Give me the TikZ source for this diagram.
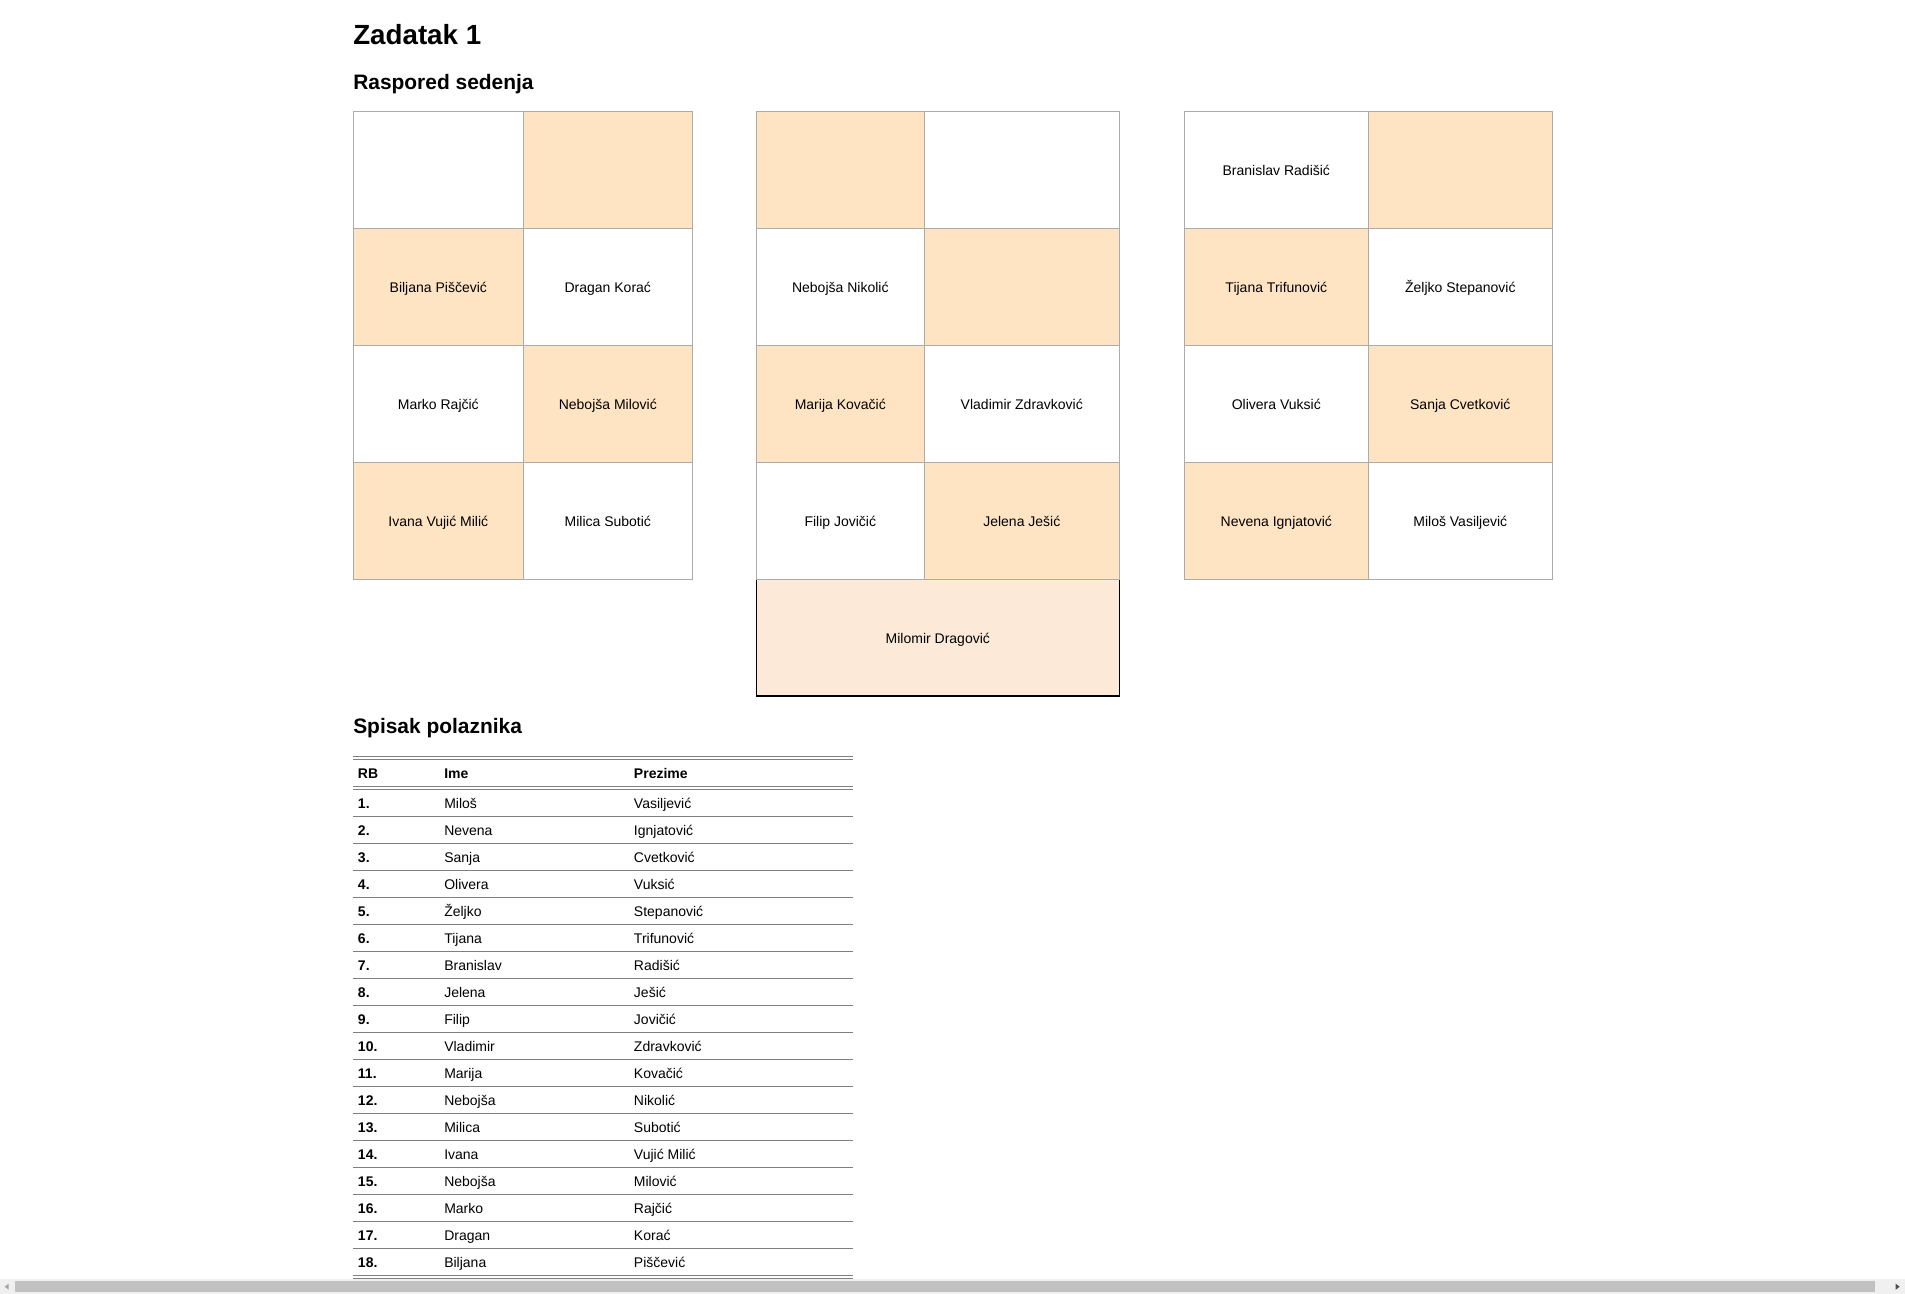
\documentclass[tikz,border=0pt]{standalone}
\usepackage{fontspec}
\setmainfont{Liberation Sans}
\usepackage{xcolor}

\definecolor{seatfill}{HTML}{FFE4C4}
\definecolor{deskfill}{HTML}{FCE9D7}
\definecolor{seatline}{HTML}{ABABAB}
\definecolor{rulegray}{HTML}{808080}
\definecolor{barbg}{HTML}{F0F0F0}
\definecolor{barthumb}{HTML}{C1C1C1}

\begin{document}
\begin{tikzpicture}[x=0.75pt, y=-0.75pt,
    seat/.style={draw=seatline, line width=0.75pt},
    seatname/.style={inner sep=0pt, anchor=base, font=\fontsize{10.5}{12}\selectfont},
    celltext/.style={inner sep=0pt, anchor=base west, font=\fontsize{10.5}{12}\selectfont},
    headtext/.style={celltext, font=\fontsize{10.5}{12}\selectfont\bfseries},
    tabrule/.style={draw=rulegray, line width=0.75pt}]
    \useasboundingbox (0,0) rectangle (1905,1294);
    \def\rowsA{111.7/228.5/white/seatfill, 228.5/345.3/seatfill/white, 345.3/462.3/white/seatfill, 462.3/579.3/seatfill/white}
    \def\rowsB{111.7/228.5/seatfill/white, 228.5/345.3/white/seatfill, 345.3/462.3/seatfill/white, 462.3/579.3/white/seatfill}

    % headings
    \node[inner sep=0pt, anchor=base west, font=\fontsize{20.8}{24}\selectfont\bfseries] (naslov) at (353,44.3) {Zadatak 1};
    \node[inner sep=0pt, anchor=base west, font=\fontsize{15.7}{18}\selectfont\bfseries] (raspored) at (353,89.3) {Raspored sedenja};
    \node[inner sep=0pt, anchor=base west, font=\fontsize{15.7}{18}\selectfont\bfseries] (spisak) at (353,733.3) {Spisak polaznika};

    % seating
    \foreach \ya/\yb/\fa/\fb in \rowsA {
        \draw[seat, fill=\fa] (353.3,\ya) rectangle (523.3,\yb);
        \draw[seat, fill=\fb] (523.3,\ya) rectangle (692.3,\yb);
        \draw[seat, fill=\fa] (1184.3,\ya) rectangle (1368.3,\yb);
        \draw[seat, fill=\fb] (1368.3,\ya) rectangle (1552.3,\yb);
    }
    \fill[deskfill] (756.3,579.3) rectangle (1119.3,696);
    \draw[black, line width=0.9pt] (756.3,579.3) -- (756.3,696) -- (1119.3,696) -- (1119.3,579.3);
    \foreach \ya/\yb/\fa/\fb in \rowsB {
        \draw[seat, fill=\fa] (756.3,\ya) rectangle (924.3,\yb);
        \draw[seat, fill=\fb] (924.3,\ya) rectangle (1119.3,\yb);
    }

    \node[seatname] (biljana) at (438.3,292.2) {Biljana Piščević};
    \node[seatname] (dragan) at (607.8,292.2) {Dragan Korać};
    \node[seatname] (marko) at (438.3,409.1) {Marko Rajčić};
    \node[seatname] (nebojsaM) at (607.8,409.1) {Nebojša Milović};
    \node[seatname] (ivana) at (438.3,526.1) {Ivana Vujić Milić};
    \node[seatname] (milica) at (607.8,526.1) {Milica Subotić};

    \node[seatname] (nebojsaN) at (840.3,292.2) {Nebojša Nikolić};
    \node[seatname] (marija) at (840.3,409.1) {Marija Kovačić};
    \node[seatname] (vladimir) at (1021.8,409.1) {Vladimir Zdravković};
    \node[seatname] (filip) at (840.3,526.1) {Filip Jovičić};
    \node[seatname] (jelena) at (1021.8,526.1) {Jelena Ješić};
    \node[seatname] (milomir) at (937.8,643) {Milomir Dragović};

    \node[seatname] (branislav) at (1276.3,175.4) {Branislav Radišić};
    \node[seatname] (tijana) at (1276.3,292.2) {Tijana Trifunović};
    \node[seatname] (zeljko) at (1460.3,292.2) {Željko Stepanović};
    \node[seatname] (olivera) at (1276.3,409.1) {Olivera Vuksić};
    \node[seatname] (sanja) at (1460.3,409.1) {Sanja Cvetković};
    \node[seatname] (nevena) at (1276.3,526.1) {Nevena Ignjatović};
    \node[seatname] (milos) at (1460.3,526.1) {Miloš Vasiljević};

    % list of participants
    \draw[tabrule] (353,756.7) -- (853,756.7);
    \draw[tabrule] (353,759.3) -- (853,759.3);
    \node[headtext] (hRB) at (357.7,778.5) {RB};
    \node[headtext] (hIme) at (444,778.5) {Ime};
    \node[headtext] (hPrezime) at (633.7,778.5) {Prezime};
    \draw[tabrule] (353,786.7) -- (853,786.7);
    \draw[tabrule] (353,789.3) -- (853,789.3);
    \foreach \ime/\prez [count=\i] in {Miloš/Vasiljević, Nevena/Ignjatović, Sanja/Cvetković,
        Olivera/Vuksić, Željko/Stepanović, Tijana/Trifunović, Branislav/Radišić, Jelena/Ješić,
        Filip/Jovičić, Vladimir/Zdravković, Marija/Kovačić, Nebojša/Nikolić, Milica/Subotić,
        Ivana/Vujić Milić, Nebojša/Milović, Marko/Rajčić, Dragan/Korać, Biljana/Piščević} {
        \pgfmathsetmacro\yb{808.3+27*(\i-1)}
        \pgfmathsetmacro\yl{816.3+27*(\i-1)}
        \node[headtext] (rb\i) at (357.7,\yb) {\i.};
        \node[celltext] (ime\i) at (444,\yb) {\ime};
        \node[celltext] (prez\i) at (633.7,\yb) {\prez};
        \ifnum\i<18 \draw[tabrule] (353,\yl) -- (853,\yl); \fi
    }
    \draw[tabrule] (353,1275.5) -- (853,1275.5);
    \draw[tabrule] (353,1278) -- (853,1278);

    % scroll bar
    \fill[barbg] (0,1279.3) rectangle (1905,1294);
    \fill[barthumb] (15,1281) rectangle (1875,1292);
    \fill[black!36] (4.7,1286.7) -- (8.7,1283.7) -- (8.7,1289.7) -- cycle;
    \fill[black!69] (1899.7,1286.7) -- (1895.7,1283.7) -- (1895.7,1289.7) -- cycle;
\end{tikzpicture}
\end{document}
